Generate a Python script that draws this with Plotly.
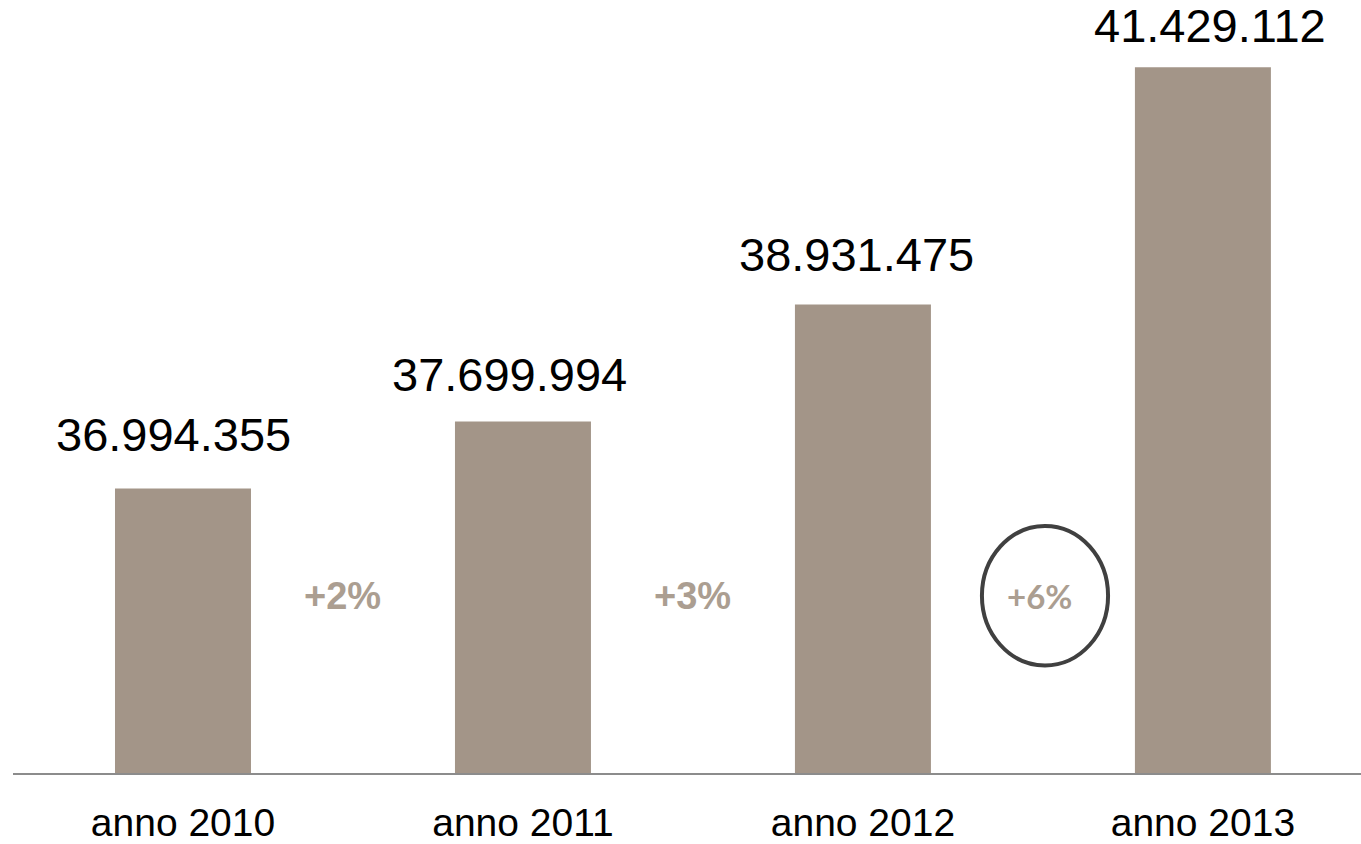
import plotly.graph_objects as go

categories = ["anno 2010", "anno 2011", "anno 2012", "anno 2013"]
values = [36994355, 37699994, 38931475, 41429112]
value_labels = ["36.994.355", "37.699.994", "38.931.475", "41.429.112"]
growth_labels = ["+2%", "+3%", "+6%"]

BAR = "#a39588"
PCT = "#ab9e91"

x = list(range(len(categories)))
y_min = 34_000_000
y_max = 42_136_000

fig = go.Figure()
fig.add_trace(go.Bar(x=x, y=values, width=0.4, marker=dict(color=BAR, line=dict(width=0)),
                     hoverinfo="skip"))

label_xshift = [-9, -13, -6, 7]
label_yshift = [54, 47, 50, 42]
for i, (v, t) in enumerate(zip(values, value_labels)):
    fig.add_annotation(x=i, y=v, text=t, showarrow=False, yanchor="middle",
                       yshift=label_yshift[i], xshift=label_xshift[i],
                       font=dict(family="Liberation Sans, Arial", size=47, color="#000000"))

# growth labels between bars
g_pos = [(0.47, 35_866_000), (1.5, 35_866_000), (2.52, 35_866_000)]
for (gx, gy), t, fam, sz in zip(g_pos, growth_labels,
                                ["Liberation Sans, Arial", "Liberation Sans, Arial", "Lato, Open Sans"],
                                [38, 38, 33]):
    fig.add_annotation(x=gx, y=gy, text="<b>" + t + "</b>", showarrow=False,
                       font=dict(family=fam, size=sz, color=PCT))

fig.add_shape(type="circle", xref="x", yref="y", x0=2.35, x1=2.721,
              y0=35_132_313, y1=36_600_126, line=dict(color="#404040", width=4))

fig.update_layout(
    width=1361, height=844,
    margin=dict(l=13, r=0, t=0, b=68),
    paper_bgcolor="white", plot_bgcolor="white",
    showlegend=False,
    xaxis=dict(range=[-0.5, 3.465], tickmode="array", tickvals=x, ticktext=categories,
               showgrid=False, zeroline=False, showline=True, linecolor="#8c8c8c", linewidth=2,
               ticks="", tickfont=dict(family="Liberation Sans, Arial", size=39, color="#000000"),
               ticklabelstandoff=14),
    yaxis=dict(range=[y_min, y_max], visible=False, showgrid=False, zeroline=False),
)

fig.write_html("out.html", config={"displayModeBar": False},
               post_script="document.body.style.margin='0';document.body.style.overflow='hidden';")
